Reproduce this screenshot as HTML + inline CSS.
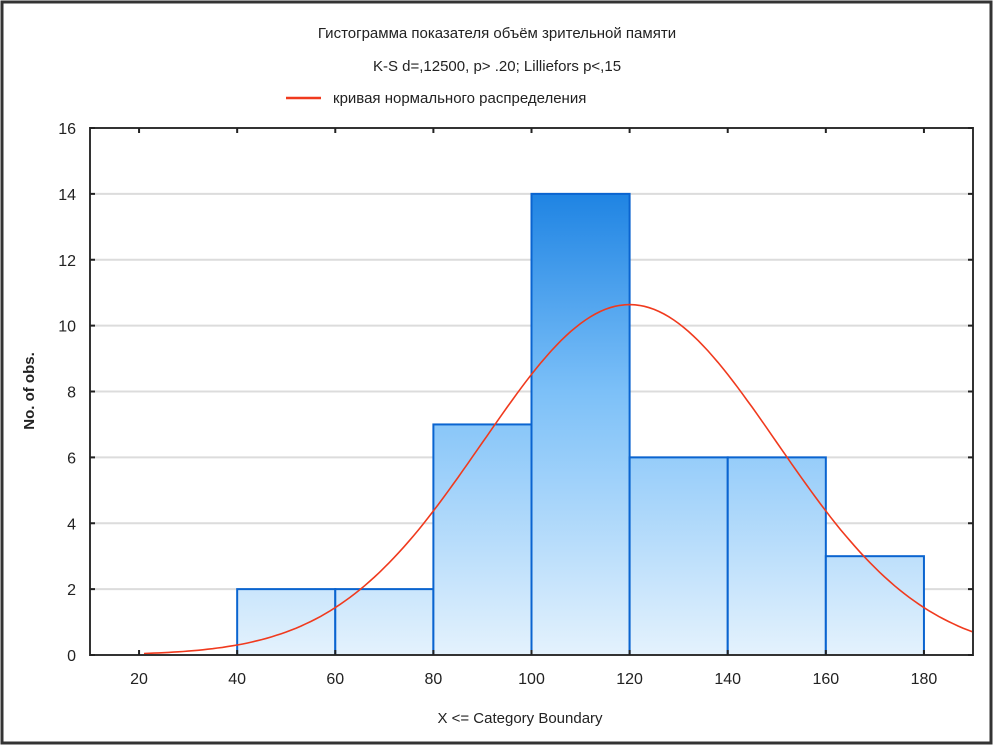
<!DOCTYPE html>
<html><head><meta charset="utf-8"><style>
html,body{margin:0;padding:0;background:#fff;}
svg{display:block;font-family:"Liberation Sans",Arial,sans-serif;}
</style></head><body>
<svg width="994" height="746" viewBox="0 0 994 746">
<defs>
<linearGradient id="barGrad" gradientUnits="userSpaceOnUse" x1="0" y1="128" x2="0" y2="655">
<stop offset="0" stop-color="#0070dc"/>
<stop offset="0.5" stop-color="#7cc0f8"/>
<stop offset="1" stop-color="#e4f2fd"/>
</linearGradient>
</defs>
<rect x="2" y="2" width="989" height="741" fill="#fff" stroke="#333" stroke-width="3"/>
<text x="497" y="38" text-anchor="middle" font-size="15" fill="#222">Гистограмма показателя объём зрительной памяти</text>
<text x="497" y="71" text-anchor="middle" font-size="15" fill="#222">K-S d=,12500, p&gt; .20; Lilliefors p&lt;,15</text>
<g>
<line x1="286" y1="98" x2="321" y2="98" stroke="#f03a1e" stroke-width="2.5"/>
<text x="333" y="103" font-size="15" fill="#222">кривая нормального распределения</text>
</g>
<g id="grid"></g>
<g id="bars"></g>
<path id="curve" fill="none" stroke="#f03a1e" stroke-width="1.6"/>
<rect x="90" y="128" width="883" height="527" fill="none" stroke="#333" stroke-width="2"/>
<g id="axes"></g>
<text x="520" y="723" text-anchor="middle" font-size="15" fill="#222">X &lt;= Category Boundary</text>
<text transform="translate(34,391) rotate(-90)" text-anchor="middle" font-size="15" font-weight="bold" fill="#222">No. of obs.</text>
</svg>
<script>
const binStarts=[40,60,80,100,120,140,160];
const binCounts=[2,2,7,14,6,6,3];
const xTicks=[20,40,60,80,100,120,140,160,180];
const yTicks=[0,2,4,6,8,10,12,14,16];
const curveMean=[120];
const curveSd=[30];
const curveN=[40];
const binWidth=20;
const NS='http://www.w3.org/2000/svg';
const L=90,R=973,T=128,B=655,xmin=10,xmax=190,ymin=0,ymax=16;
const sx=v=>L+(v-xmin)/(xmax-xmin)*(R-L);
const sy=v=>B-(v-ymin)/(ymax-ymin)*(B-T);
function mk(tag,attrs,parent){const e=document.createElementNS(NS,tag);for(const k in attrs)e.setAttribute(k,attrs[k]);parent.appendChild(e);return e;}
const grid=document.getElementById('grid'),bars=document.getElementById('bars'),axes=document.getElementById('axes');
yTicks.forEach(v=>{
 if(v>ymin&&v<ymax){const g=mk('line',{x1:L,x2:R,y1:sy(v),y2:sy(v),stroke:'#dcdcdc','stroke-width':2},grid);
 
 }
 const t=mk('line',{x1:L,x2:L+5,y1:sy(v),y2:sy(v),stroke:'#222','stroke-width':2},axes);
 
 
 const t2=mk('line',{x1:R-5,x2:R,y1:sy(v),y2:sy(v),stroke:'#222','stroke-width':2},axes);
 
 
 const lb=mk('text',{x:L-14,y:sy(v)+6,'text-anchor':'end','font-size':16,fill:'#222'},axes);
 lb.textContent=v;
 
 
});
xTicks.forEach(v=>{
 const t=mk('line',{x1:sx(v),x2:sx(v),y1:B-5,y2:B,stroke:'#222','stroke-width':2},axes);
 
 
 const t2=mk('line',{x1:sx(v),x2:sx(v),y1:T,y2:T+5,stroke:'#222','stroke-width':2},axes);
 
 
 const lb=mk('text',{x:sx(v),y:B+29,'text-anchor':'middle','font-size':16,fill:'#222'},axes);
 lb.textContent=v;
 
 
});
binStarts.forEach((s,i)=>{
 const x0=sx(s),x1=sx(s+binWidth),y=sy(binCounts[i]);
 const r=mk('rect',{x:x0,y:y,width:x1-x0,height:B-y,fill:'url(#barGrad)',stroke:'#0a64d0','stroke-width':2},bars);
 
 
});
const m=curveMean[0],sd=curveSd[0],n=curveN[0];
let d='';
for(let x=21;x<=xmax;x+=1){
 const yv=n*binWidth*Math.exp(-0.5*((x-m)/sd)**2)/(sd*Math.sqrt(2*Math.PI));
 d+=(d?'L':'M')+sx(x).toFixed(1)+','+sy(yv).toFixed(1);
}
document.getElementById('curve').setAttribute('d',d);
</script>
</body></html>
